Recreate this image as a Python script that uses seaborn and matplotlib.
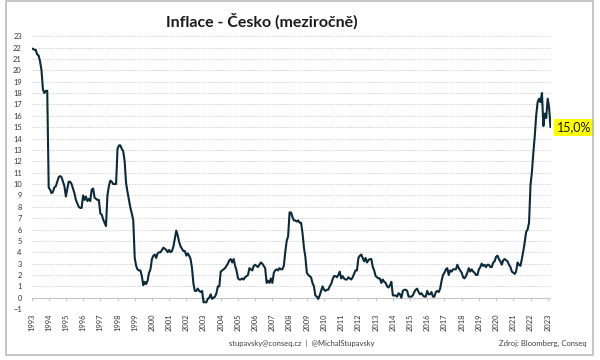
import pandas as pd
import matplotlib.pyplot as plt
import seaborn as sns
from matplotlib.patches import Rectangle

## Data - CPI yoy (%), monthly from Jan 1993
cpi_1990s = [
    21.9, 21.9, 21.8, 21.8, 21.4, 21.3, 20.8, 20.0, 18.3, 18.0, 18.2, 18.2,  # 1993
    9.7, 9.5, 9.2, 9.3, 9.7, 9.8, 10.2, 10.6, 10.7, 10.6, 10.2, 9.8,  # 1994
    8.9, 9.6, 10.2, 10.2, 10.0, 9.6, 9.2, 8.6, 8.3, 8.0, 7.9, 7.9,  # 1995
    9.0, 8.6, 8.9, 8.5, 8.7, 8.5, 9.5, 9.6, 8.8, 8.7, 8.6, 8.6,  # 1996
    7.4, 7.3, 6.9, 6.6, 6.3, 9.0, 9.8, 10.3, 10.2, 10.0, 10.0, 10.0,  # 1997
    13.1, 13.4, 13.4, 13.1, 12.9, 12.0, 10.1, 9.3, 8.6, 7.9, 7.4, 6.8,  # 1998
    3.5, 2.8, 2.5, 2.4, 2.4, 1.9, 1.1, 1.4, 1.2, 1.5, 2.2, 2.5,  # 1999
]
cpi_2000s = [
    3.4, 3.7, 3.8, 3.5, 3.9, 4.0, 4.0, 4.2, 4.4, 4.3, 4.2, 4.0,  # 2000
    4.2, 4.0, 4.1, 4.5, 5.2, 5.9, 5.5, 4.9, 4.5, 4.3, 4.1, 4.1,  # 2001
    3.7, 3.9, 3.7, 3.4, 2.6, 1.2, 0.6, 0.6, 0.8, 0.6, 0.5, 0.6,  # 2002
    -0.4, -0.4, -0.4, -0.1, 0.0, 0.3, -0.1, 0.0, 0.1, 0.4, 1.0, 1.0,  # 2003
    2.3, 2.4, 2.5, 2.6, 2.8, 3.0, 3.3, 3.4, 3.1, 3.4, 2.8, 2.4,  # 2004
    1.7, 1.6, 1.6, 1.7, 1.6, 1.8, 1.9, 2.0, 2.6, 2.5, 2.4, 2.8,  # 2005
    2.9, 2.8, 2.7, 2.9, 3.1, 3.0, 2.8, 2.6, 1.3, 1.5, 1.3, 1.7,  # 2006
    1.3, 2.2, 2.4, 2.5, 2.4, 2.6, 2.5, 2.5, 2.8, 4.0, 5.0, 5.4,  # 2007
    7.5, 7.5, 7.1, 6.8, 6.8, 6.7, 6.8, 6.6, 6.6, 5.7, 4.4, 3.6,  # 2008
    2.2, 2.0, 1.9, 1.8, 1.3, 1.0, 0.2, 0.1, -0.1, 0.2, 0.6, 1.0,  # 2009
]
cpi_2010s = [
    0.7, 0.6, 0.7, 0.7, 1.0, 1.2, 1.6, 1.9, 1.9, 1.8, 2.0, 2.3,  # 2010
    1.7, 1.9, 1.7, 1.6, 1.6, 1.8, 1.7, 1.6, 1.8, 2.1, 2.4, 2.4,  # 2011
    3.5, 3.7, 3.8, 3.5, 3.2, 3.5, 3.1, 3.3, 3.4, 3.4, 2.7, 2.4,  # 2012
    1.9, 1.8, 1.7, 1.7, 1.3, 1.6, 1.4, 1.3, 1.0, 0.9, 1.1, 1.4,  # 2013
    0.2, 0.2, 0.2, 0.1, 0.4, 0.3, 0.0, 0.6, 0.7, 0.7, 0.6, 0.1,  # 2014
    0.1, 0.1, 0.2, 0.5, 0.7, 0.8, 0.5, 0.3, 0.4, 0.2, 0.1, 0.1,  # 2015
    0.6, 0.3, 0.3, 0.5, 0.1, 0.1, 0.5, 0.6, 0.5, 0.8, 1.5, 2.0,  # 2016
    2.2, 2.5, 2.6, 2.0, 2.4, 2.3, 2.5, 2.5, 2.5, 2.9, 2.6, 2.4,  # 2017
    2.2, 1.8, 1.7, 1.9, 2.2, 2.6, 2.3, 2.5, 2.3, 2.2, 2.0, 2.0,  # 2018
    2.5, 2.7, 3.0, 2.8, 2.9, 2.7, 2.9, 2.9, 2.7, 2.7, 3.1, 3.2,  # 2019
]
cpi_2020s = [
    3.6, 3.7, 3.4, 3.2, 2.9, 3.3, 3.4, 3.3, 3.2, 2.9, 2.7, 2.3,  # 2020
    2.2, 2.1, 2.3, 3.1, 2.9, 2.8, 3.4, 4.1, 4.9, 5.8, 6.0, 6.6,  # 2021
    9.9, 11.1, 12.7, 14.2, 16.0, 17.2, 17.5, 17.2, 18.0, 15.1, 16.2, 15.8,  # 2022
    17.5, 16.7, 15.0,  # 2023
]
start_month = "1993-01-01"
tick_years = list(range(1993, 2024))

cpi = cpi_1990s + cpi_2000s + cpi_2010s + cpi_2020s
cpi_df = pd.DataFrame({
    "date": pd.date_range(start_month, periods=len(cpi), freq="MS"),
    "cpi": cpi
})
year_ticks = pd.to_datetime([f"{y}-01-01" for y in tick_years])

## Style
sns.set_style("white")
plt.rcParams["font.family"] = ["Lato", "DejaVu Sans"]

fig = plt.figure(figsize=(6, 3.6), dpi=100)
ax = fig.add_axes([31.5 / 600, 1 - 309.1 / 360, 519.5 / 600, 272.9 / 360])

# grid lines
for v in range(-1, 24):
    ax.axhline(v, color="#d0d0d0", lw=0.6, ls=(0, (2, 1.5)), zorder=0)
ax.axhline(0, color="#c8c8c8", lw=0.9, zorder=1)
ax.vlines(year_ticks, -0.28, 0, color="#c8c8c8", lw=0.8, zorder=1)

sns.lineplot(x="date", y="cpi", data=cpi_df, ax=ax, color="#0c2a3a", linewidth=1.5, zorder=3)

ax.set_xlim(pd.Timestamp("1993-01-01"), pd.Timestamp("2023-03-12"))
ax.set_ylim(-1, 23)
ax.set_yticks(range(-1, 24))
ax.set_xticks(year_ticks)
ax.set_xticklabels([str(y) for y in tick_years], rotation=90)
ax.tick_params(axis="both", length=0, labelsize=5.4, labelcolor="#333333")
ax.tick_params(axis="y", pad=7)
ax.tick_params(axis="x", pad=3)
ax.set_xlabel(None)
ax.set_ylabel(None)
sns.despine(ax=ax, left=True, bottom=True)

# last value label
last = cpi_df.iloc[-1]
ax.annotate(
    f"{last['cpi']:.1f}".replace(".", ",") + "%",
    xy=(last["date"], last["cpi"]),
    xytext=(4.5, 0), textcoords="offset points",
    ha="left", va="center", fontsize=9, color="#1a1a1a",
    bbox=dict(boxstyle="square,pad=0.2", fc="#ffff00", ec="none"),
    annotation_clip=False
)

## Title, footer, frame
fig.text(0.437, 0.942, "Inflace - Česko (meziročně)", ha="center", va="center",
         fontsize=11.5, fontweight="bold", color="#1a1a1a")
fig.text(0.502, 0.047, "stupavsky@conseq.cz  |  @MichalStupavsky", ha="center", va="center",
         fontsize=5.5, color="#404040")
fig.text(0.978, 0.047, "Zdroj: Bloomberg, Conseq", ha="right", va="center",
         fontsize=5.5, color="#404040")
fig.patches.append(Rectangle((6 / 600, 5 / 360), 587 / 600, 354 / 360, transform=fig.transFigure,
                             fill=False, ec="#b5b5b5", lw=1.1))

plt.savefig("out.png", dpi=100)
